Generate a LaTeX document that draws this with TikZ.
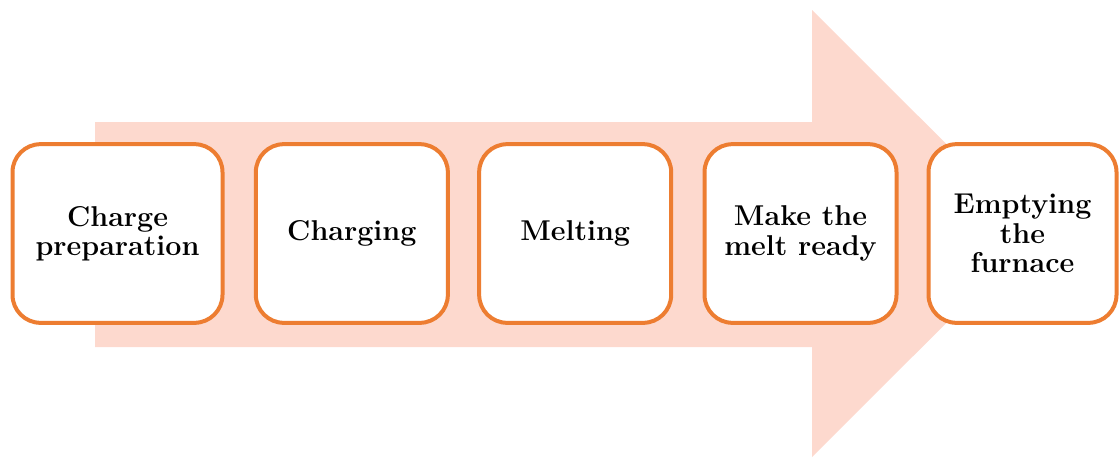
\documentclass[tikz,border=0pt]{standalone}
\usepackage{fontspec}
\usepackage{amsmath}
\usepackage{tikz}
\usetikzlibrary{positioning}
\usepackage[dvipsnames]{xcolor}

\definecolor{stepedge}{RGB}{237,125,49}
\definecolor{flowfill}{RGB}{253,217,206}

\tikzset{
	stepbox/.style={draw=stepedge, line width=3pt, fill=white, rounded corners=21pt,
		minimum width=144pt, minimum height=134pt, align=center, inner sep=2pt,
		font=\fontsize{21.5}{22}\selectfont\bfseries},
}

\begin{document}
\begin{tikzpicture}[x=0.75pt,y=0.75pt,yscale=-1,xscale=1]
			\useasboundingbox (0,0) rectangle (1119,457);

			%Big arrow behind the steps
			\fill [flowfill] (95,122) -- (812,122) -- (812,10) -- (1036,233.5) -- (812,457) -- (812,347) -- (95,347) -- cycle ;

			% Step Nodes
			\node [stepbox, minimum width=157.5pt] (prep) at (117.5,233.5) {Charge\\preparation};
			\node [stepbox, right=22pt of prep] (charging) {Charging};
			\node [stepbox, right=20.5pt of charging] (melting) {Melting};
			\node [stepbox, right=22pt of melting] (ready) {Make the\\melt ready};
			\node [stepbox, minimum width=141pt, right=21pt of ready] (emptying) {Emptying\\the\\furnace};
		\end{tikzpicture}
\end{document}
